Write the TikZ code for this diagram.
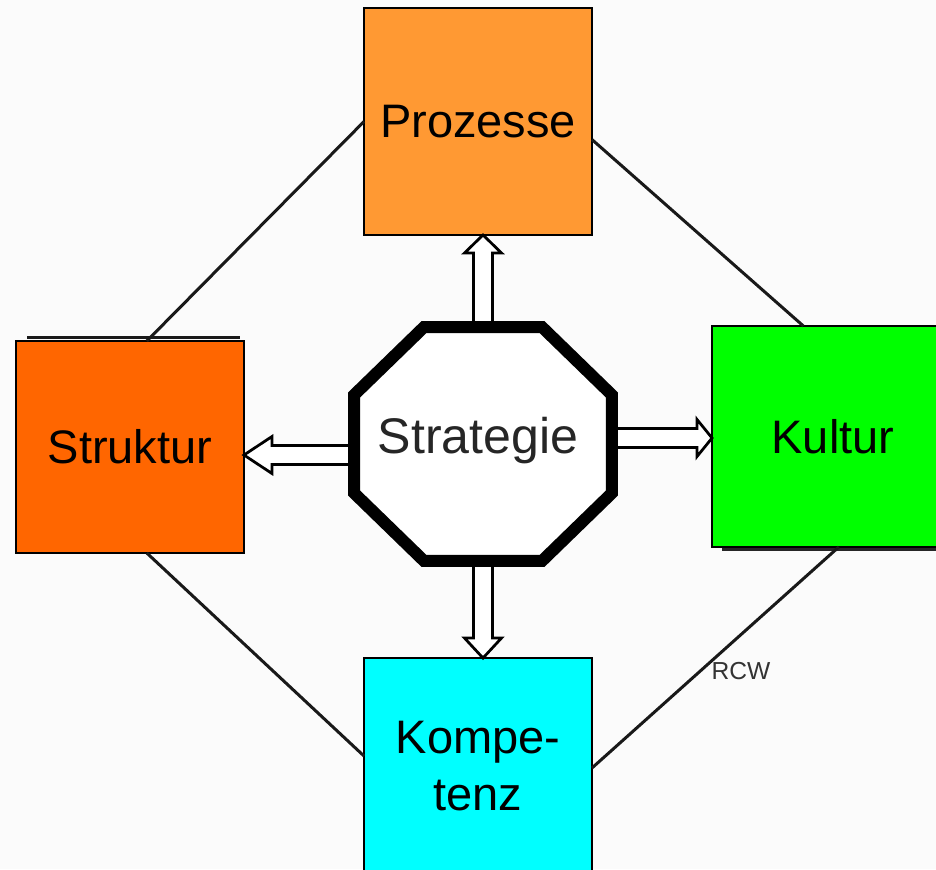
\documentclass[tikz,border=0pt]{standalone}
\usepackage{fontspec}
\setmainfont{Liberation Sans}
\usetikzlibrary{calc,shadows}

\definecolor{procorange}{HTML}{FF9933}
\definecolor{strucorange}{HTML}{FF6600}
\definecolor{cultgreen}{HTML}{00FF00}
\definecolor{compcyan}{HTML}{00FFFF}
\definecolor{paper}{HTML}{FBFBFB}

% half shaft width, half head width, head length of the hollow arrows
\def\arrsw{0.19cm}
\def\arrhw{0.37cm}
\def\arrhl{0.38cm}

\tikzset{
  every node/.style={outer sep=0pt, inner sep=0pt},
  pillar/.style={draw=black, line width=0.04cm, text=black,
    font=\fontsize{26.75}{32.4}\selectfont, align=center},
  ring/.style={line width=0.06cm, draw=black!90},
  headlen/.code={\def\arrhl{#1}},
  fatarrow/.style={draw=black, fill=white, line width=0.055cm, line join=miter,
    to path={
      ($(\tikztostart)!\arrsw!90:(\tikztotarget)$)
      -- ($(\tikztotarget)!\arrhl!(\tikztostart)!\arrsw!-90:(\tikztostart)$)
      -- ($(\tikztotarget)!\arrhl!(\tikztostart)!\arrhw!-90:(\tikztostart)$)
      -- (\tikztotarget)
      -- ($(\tikztotarget)!\arrhl!(\tikztostart)!\arrhw!90:(\tikztostart)$)
      -- ($(\tikztotarget)!\arrhl!(\tikztostart)!\arrsw!90:(\tikztostart)$)
      -- ($(\tikztostart)!\arrsw!-90:(\tikztotarget)$)
      -- cycle}},
  octagon/.style={draw=black, fill=white, line width=0.24cm, line join=miter}
}

\begin{document}
\begin{tikzpicture}[x=0.02cm, y=-0.02cm]
  \useasboundingbox (0,0) rectangle (936,869);
  \fill[paper] (0,0) rectangle (936,869);

  % the four fields around the strategy
  \node[pillar, fill=procorange, minimum width=4.56cm, minimum height=4.54cm]
    (proz) at (478,121.5) {Prozesse};
  \node[pillar, fill=strucorange, minimum width=4.56cm, minimum height=4.24cm]
    (strukt) at (130,447) {Struktur};
  \node[pillar, fill=cultgreen, minimum width=4.84cm, minimum height=4.42cm,
    drop shadow={shadow xshift=0.2cm, shadow yshift=-0.08cm, fill=black!85, opacity=1}]
    (kult) at (833,436.5) {Kultur};
  \node[pillar, fill=compcyan, minimum width=4.56cm, minimum height=4.32cm]
    (komp) at (478,766) {Kompe-\\tenz};

  % dark edge above the structure field
  \draw[line width=0.06cm, black!90]
    ($(strukt.north west)+(11,-4)$) -- ($(strukt.north east)+(-4,-4)$);

  % outer ring linking the fields
  \draw[ring] (proz.west) -- (strukt.81);
  \draw[ring] (proz.-9) -- (kult.105);
  \draw[ring] (strukt.-81) -- (komp.175);
  \draw[ring] (kult.-87) -- (komp.-1);

  % centre
  \path node[minimum width=5.16cm, minimum height=4.68cm] (strat) at (483,444) {};

  % hollow arrows from the centre
  \draw[fatarrow, headlen=0.36cm] (strat.north) to ($(proz.south)+(5,0)$);
  \draw[fatarrow, headlen=0.56cm] ($(strat.west)+(0,11)$) to ($(strukt.east)+(0,8)$);
  \draw[fatarrow, headlen=0.3cm] ($(strat.east)+(0,-6)$) to ($(kult.west)+(0,1.5)$);
  \draw[fatarrow, headlen=0.4cm] (strat.south) to ($(komp.north)+(5,0)$);

  % octagon
  \draw[octagon]
    ($(strat.north west)+(70,0)$) -- ($(strat.north east)+(-70,0)$)
    -- ($(strat.north east)+(0,68)$) -- ($(strat.south east)+(0,-68)$)
    -- ($(strat.south east)+(-70,0)$) -- ($(strat.south west)+(70,0)$)
    -- ($(strat.south west)+(0,-68)$) -- ($(strat.north west)+(0,68)$)
    -- cycle;
  \node[anchor=base, font=\fontsize{28.5}{32}\selectfont, text=black!85]
    (stratlabel) at (478,453) {Strategie};

  \node[font=\fontsize{14}{16}\selectfont, text=black!80] (rcw) at (741,671) {RCW};
\end{tikzpicture}
\end{document}
